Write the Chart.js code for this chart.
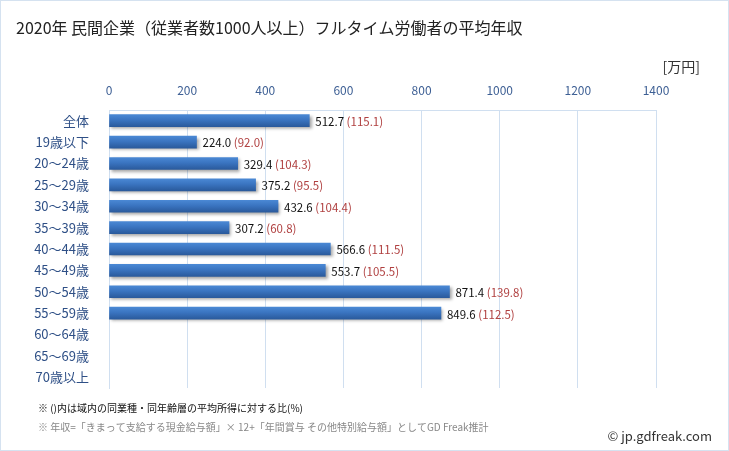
<!DOCTYPE html>
<html><head><meta charset="utf-8">
<script src="https://cdn.jsdelivr.net/npm/chart.js@4"></script>
<style>html,body{margin:0;padding:0;background:#fff}#wrap{width:729px;height:451px;position:relative}</style>
</head><body><div id="wrap"><canvas id="c" width="729" height="451"></canvas></div>
<script>
const categories = ["全体","19歳以下","20～24歳","25～29歳","30～34歳","35～39歳","40～44歳","45～49歳","50～54歳","55～59歳","60～64歳","65～69歳","70歳以上"];
const incomes = [512.7,224.0,329.4,375.2,432.6,307.2,566.6,553.7,871.4,849.6,null,null,null];
const ratios = [115.1,92.0,104.3,95.5,104.4,60.8,111.5,105.5,139.8,112.5,null,null,null];
const xTicks = [0,200,400,600,800,1000,1200,1400];
const titleText = "2020年 民間企業（従業者数1000人以上）フルタイム労働者の平均年収";
const unitText = "[万円]";
const note1 = "※ ()内は域内の同業種・同年齢層の平均所得に対する比(%)";
const note2 = "※ 年収=「きまって支給する現金給与額」× 12+「年間賞与 その他特別給与額」としてGD Freak推計";
const credit = "© jp.gdfreak.com";

const FONT = "'Noto Sans CJK JP','Noto Sans',sans-serif";

const decor = {
  id:'decor',
  beforeDraw(chart){
    const c=chart.ctx;
    c.save();
    c.fillStyle='#fff';c.fillRect(0,0,chart.width,chart.height);
    c.strokeStyle='#d5e2f0';c.lineWidth=1;
    c.strokeRect(0.5,0.5,chart.width-1,chart.height-1);
    c.fillStyle='#222';c.font="16px "+FONT;c.textBaseline='middle';c.textAlign='left';
    c.fillText(titleText,16,28);
    c.font="14px "+FONT;c.fillStyle='#333';c.textAlign='right';
    c.fillText(unitText,700,67);
    c.textAlign='left';c.font="10px "+FONT;c.fillStyle='#111';
    c.fillText(note1,38,408);
    c.fillStyle='#888';
    c.fillText(note2,38,427);
    c.fillStyle='#333';c.font="13px "+FONT;c.textAlign='right';
    c.fillText(credit,712,436);
    c.restore();
  },
  beforeDatasetDraw(chart){
    const c=chart.ctx;c.save();
    c.shadowColor='rgba(0,0,0,0.35)';c.shadowOffsetX=2;c.shadowOffsetY=2;c.shadowBlur=3;
  },
  afterDatasetDraw(chart){chart.ctx.restore();},
  afterDatasetsDraw(chart){
    const c=chart.ctx;const meta=chart.getDatasetMeta(0);
    c.save();c.font="11.5px "+FONT;c.textBaseline='middle';c.textAlign='left';
    meta.data.forEach((bar,i)=>{
      if(incomes[i]==null)return;
      const x=bar.x+6,y=bar.y+1;
      const v=incomes[i].toFixed(1)+" ";
      c.fillStyle='#111';c.fillText(v,x,y);
      const w=c.measureText(v).width;
      if(ratios[i]!=null){c.fillStyle='#b04040';c.fillText("("+ratios[i].toFixed(1)+")",x+w,y);}
    });
    c.restore();
  }
};

new Chart(document.getElementById('c'),{
  type:'bar',
  data:{labels:categories,datasets:[{data:incomes,barThickness:12,
    backgroundColor(ctx){
      const chart=ctx.chart;const ys=chart.scales.y;
      if(!ys||ctx.dataIndex==null)return '#3a70b8';
      const yc=ys.getPixelForValue(ctx.dataIndex);
      if(!isFinite(yc))return '#3a70b8';
      const g=chart.ctx.createLinearGradient(0,yc-6,0,yc+6);
      g.addColorStop(0,'#4a88d4');g.addColorStop(0.45,'#3a74c0');g.addColorStop(1,'#2a5a9c');
      return g;
    },borderWidth:0}]},
  options:{
    indexAxis:'y',responsive:false,animation:false,
    layout:{padding:{left:0,right:73,top:80,bottom:63}},
    plugins:{legend:{display:false},tooltip:{enabled:false}},
    scales:{
      x:{position:'top',min:0,max:1400,
        afterBuildTicks(s){s.ticks=xTicks.map(v=>({value:v}));},
        afterFit(s){s.height=30;},
        grid:{color:'#d0dff0',drawTicks:false},border:{display:true,color:'#d0dff0'},
        ticks:{color:'#3d5f94',font:{family:FONT,size:12},padding:12,callback:v=>String(v)}},
      y:{afterFit(s){s.width=109;},
        grid:{display:false},border:{display:true,color:'#d0dff0'},
        ticks:{color:'#2e4f86',font:{family:FONT,size:13},padding:12}}
    }
  },
  plugins:[decor]
});
</script></body></html>
